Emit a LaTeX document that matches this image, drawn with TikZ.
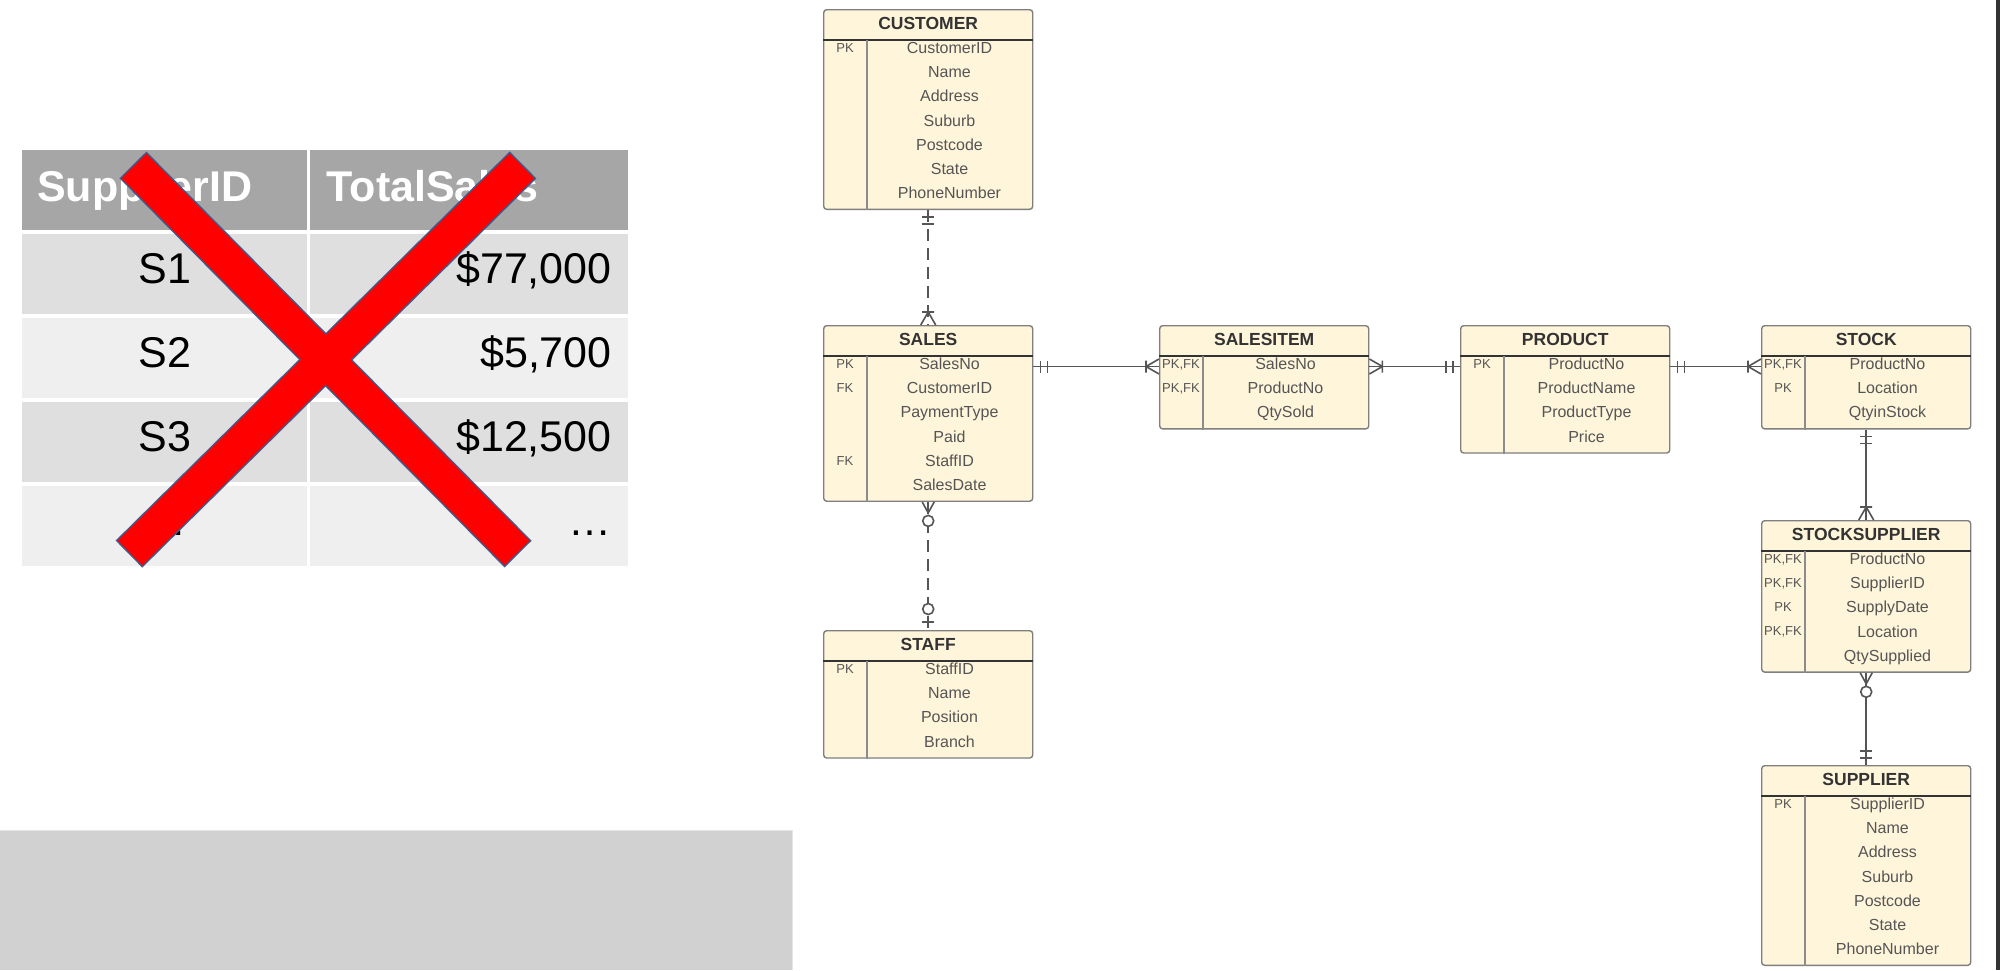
\documentclass[tikz,border=0pt]{standalone}
\usepackage{fontspec}
\setmainfont{Liberation Sans}
\usetikzlibrary{calc}
\definecolor{lineC}{HTML}{555555}
\definecolor{entFill}{HTML}{FFF5DA}
\definecolor{entBorder}{HTML}{7F7F7F}
\definecolor{divC}{HTML}{8C8C8C}
\definecolor{hdrC}{HTML}{A6A6A6}
\definecolor{rowA}{HTML}{DFDFDF}
\definecolor{rowB}{HTML}{EFEFEF}
\definecolor{xRed}{HTML}{FF0000}
\definecolor{xBlue}{HTML}{3B5C8E}
\definecolor{bandC}{HTML}{D1D1D1}
\definecolor{attrC}{HTML}{555555}
\definecolor{titleC}{HTML}{333333}
\newcommand{\pkfk}{PK,FK}
\tikzset{
 entbox/.style={draw=entBorder, fill=entFill, line width=1.4pt, rounded corners=3pt, minimum width=209pt, inner sep=0pt, anchor=north west},
 hdrline/.style={draw=titleC, line width=1.8pt},
 divline/.style={draw=divC, line width=2pt},
 enttitle/.style={font=\fontsize{17.5pt}{20pt}\selectfont\bfseries, text=titleC, inner sep=0pt, text height=12.6pt, text depth=0pt},
 attrtxt/.style={font=\fontsize{16pt}{19pt}\selectfont, text=attrC, inner sep=0pt, text height=11.5pt, text depth=0pt},
 pktxt/.style={font=\fontsize{13pt}{15pt}\selectfont, text=attrC, inner sep=0pt, text height=9.3pt, text depth=0pt},
 conn/.style={draw=lineC, line width=1.6pt},
 dconn/.style={conn, dash pattern=on 12pt off 7pt},
 tcell/.style={anchor=north west, minimum height=80pt, inner ysep=0pt, text height=31pt, text depth=8pt, font=\fontsize{43pt}{50pt}\selectfont},
 dcell/.style={text depth=12pt},
 cA/.style={tcell, text width=255pt, inner xsep=15pt},
 cB/.style={tcell, text width=285pt, inner xsep=16.5pt},
 xout/.style={draw=xBlue, line width=38pt, shorten <=-1.5pt, shorten >=-1.5pt},
 xin/.style={draw=xRed, line width=35pt},
}
% entity: name, title, left x, top y, number of rows, list key/attr
\newcommand{\erent}[6]{%
  \node[entbox, minimum height={55pt+(#5-1)*24.1pt}] (#1) at (#3,#4) {};
  \draw[hdrline] ([yshift=-31pt]#1.north west) -- ([yshift=-31pt]#1.north east);
  \draw[divline] ([xshift=44pt,yshift=-31pt]#1.north west) -- ([xshift=44pt]#1.south west);
  \node[enttitle] (#1-t) at ([yshift=-14pt]#1.north) {#2};
  \foreach \pk/\at [count=\i] in {#6} {
    \node[pktxt] (#1-k\i) at ([xshift=22pt,yshift={-39pt-(\i-1)*24.1pt}]#1.north west) {\pk};
    \node[attrtxt] (#1-a\i) at ([xshift=126.5pt,yshift={-39pt-(\i-1)*24.1pt}]#1.north west) {\at};
  }
}
% marks: #1 point on border, #2 direction (canvas degrees) pointing away from entity
\newcommand{\mkone}[2]{\begin{scope}[shift={(#1)}, rotate=#2]
  \draw[conn] (7pt,-6pt) -- (7pt,6pt) (14pt,-6pt) -- (14pt,6pt);
\end{scope}}
\newcommand{\mkmany}[2]{\begin{scope}[shift={(#1)}, rotate=#2]
  \draw[conn] (0pt,7.5pt) -- (13pt,0pt) -- (0pt,-7.5pt) (13pt,-6pt) -- (13pt,6pt);
\end{scope}}
\newcommand{\mkzmany}[2]{\begin{scope}[shift={(#1)}, rotate=#2]
  \draw[conn] (0pt,6pt) -- (11pt,0pt) -- (0pt,-6pt);
  \draw[conn, fill=white] (19pt,0pt) circle[radius=5.5pt];
\end{scope}}
\newcommand{\mkzone}[2]{\begin{scope}[shift={(#1)}, rotate=#2]
  \draw[conn] (8pt,-6pt) -- (8pt,6pt);
  \draw[conn, fill=white] (21pt,0pt) circle[radius=5.5pt];
\end{scope}}
\begin{document}
\begin{tikzpicture}[x=1pt,y=-1pt]
\useasboundingbox (0,0) rectangle (2000,970);
\fill[white] (0,0) rectangle (2000,970);
% bottom grey band
\fill[bandC] (0,830) rectangle (792,970);
\draw[black!10, line width=1pt] (0,830) -- (792,830) -- (792,970);
% right edge line
\fill[black!80] (1996,0) rectangle (2000,970);

% ---- table ----
\node[cA, fill=hdrC, text=white, align=left] (h1) at (22,150) {\bfseries SupplierID};
\node[cB, fill=hdrC, text=white, align=left] (h2) at (310,150) {\bfseries TotalSales};
\node[cA, dcell, fill=rowA, align=center] (r1a) at (22,234) {S1};
\node[cB, dcell, fill=rowA, align=right] (r1b) at (310,234) {\$77,000};
\node[cA, dcell, fill=rowB, align=center] (r2a) at (22,318) {S2};
\node[cB, dcell, fill=rowB, align=right] (r2b) at (310,318) {\$5,700};
\node[cA, dcell, fill=rowA, align=center] (r3a) at (22,402) {S3};
\node[cB, dcell, fill=rowA, align=right] (r3b) at (310,402) {\$12,500};
\node[cA, dcell, fill=rowB, align=center] (r4a) at (22,486) {…};
\node[cB, dcell, fill=rowB, align=right] (r4b) at (310,486) {…};

% ---- red cross ----
\coordinate (xa1) at (134,166);
\coordinate (xa2) at (517,553);
\coordinate (xb1) at (522,166);
\coordinate (xb2) at (130,553);
\draw[xout] (xa1) -- (xa2);
\draw[xout] (xb1) -- (xb2);
\draw[xin] (xa1) -- (xa2);
\draw[xin] (xb1) -- (xb2);

% ---- ER entities ----
\erent{cust}{CUSTOMER}{823}{9}{7}{PK/CustomerID, {}/Name, {}/Address, {}/Suburb, {}/Postcode, {}/State, {}/PhoneNumber}
\erent{sales}{SALES}{823}{325}{6}{PK/SalesNo, FK/CustomerID, {}/PaymentType, {}/Paid, FK/StaffID, {}/SalesDate}
\erent{sitem}{SALESITEM}{1159}{325}{3}{\pkfk/SalesNo, \pkfk/ProductNo, {}/QtySold}
\erent{prod}{PRODUCT}{1460}{325}{4}{PK/ProductNo, {}/ProductName, {}/ProductType, {}/Price}
\erent{stock}{STOCK}{1761}{325}{3}{\pkfk/ProductNo, PK/Location, {}/QtyinStock}
\erent{ssup}{STOCKSUPPLIER}{1761}{520}{5}{\pkfk/ProductNo, \pkfk/SupplierID, PK/SupplyDate, \pkfk/Location, {}/QtySupplied}
\erent{supp}{SUPPLIER}{1761}{765}{7}{PK/SupplierID, {}/Name, {}/Address, {}/Suburb, {}/Postcode, {}/State, {}/PhoneNumber}
\erent{staff}{STAFF}{823}{630}{4}{PK/StaffID, {}/Name, {}/Position, {}/Branch}

% ---- connectors ----
\draw[dconn] (cust.south) -- (sales.north);
\mkone{cust.south}{-90}
\mkmany{sales.north}{90}

\coordinate (p1) at ([yshift=-2.5pt]sales-a1 -| sales.east);
\coordinate (p2) at ([yshift=-2.5pt]sales-a1 -| sitem.west);
\coordinate (p3) at ([yshift=-2.5pt]sales-a1 -| sitem.east);
\coordinate (p4) at ([yshift=-2.5pt]sales-a1 -| prod.west);
\coordinate (p5) at ([yshift=-2.5pt]sales-a1 -| prod.east);
\coordinate (p6) at ([yshift=-2.5pt]sales-a1 -| stock.west);
\draw[conn] (p1) -- (p2);
\mkone{p1}{0}
\mkmany{p2}{180}
\draw[conn] (p3) -- (p4);
\mkmany{p3}{0}
\mkone{p4}{180}
\draw[conn] (p5) -- (p6);
\mkone{p5}{0}
\mkmany{p6}{180}

\draw[conn] (stock.south) -- (ssup.north);
\mkone{stock.south}{-90}
\mkmany{ssup.north}{90}

\draw[conn] (ssup.south) -- (supp.north);
\mkzmany{ssup.south}{-90}
\mkone{supp.north}{90}

\draw[dconn] (sales.south) -- (staff.north);
\mkzmany{sales.south}{-90}
\mkzone{staff.north}{90}
\end{tikzpicture}
\end{document}
